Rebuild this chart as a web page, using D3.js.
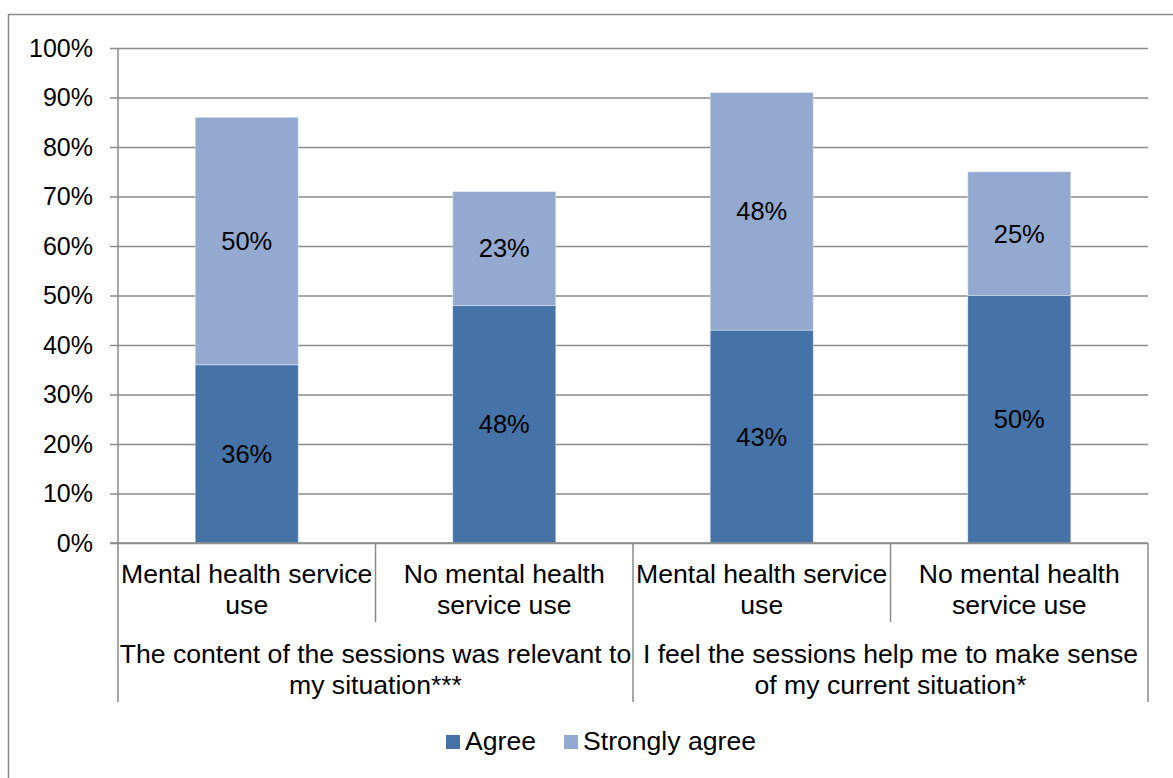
<!DOCTYPE html>
<html>
<head>
<meta charset="utf-8">
<script src="https://cdn.jsdelivr.net/npm/d3@7"></script>
<style>
  html, body { margin: 0; padding: 0; background: #fff; }
  svg { display: block; font-family: "Liberation Sans", Arial, sans-serif; }
</style>
</head>
<body>
<svg id="chart" width="1173" height="778"></svg>
<script>
// Categories: service-use group within each survey statement
const categories = ["MH1", "NoMH1", "MH2", "NoMH2"];
const categoryLines = [
  ["Mental health service", "use"],
  ["No mental health", "service use"],
  ["Mental health service", "use"],
  ["No mental health", "service use"]
];
const groupLines = [
  ["The content of the sessions was relevant to", "my situation***"],
  ["I feel the sessions help me to make sense", "of my current situation*"]
];
const groupSpans = [[0, 1], [2, 3]];

const seriesNames = ["Agree", "Strongly agree"];
const agree = [36, 48, 43, 50];
const stronglyAgree = [50, 23, 48, 25];
const yTicks = [0, 10, 20, 30, 40, 50, 60, 70, 80, 90, 100];

const colors = ["#4572A7", "#94A9CF"];
const gridColor = "#8a8a8a";
const labelSize = 26.6;

const svg = d3.select("#chart");

// outer chart frame
svg.append("rect")
  .attr("x", 8.5).attr("y", 14.5)
  .attr("width", 1200).attr("height", 800)
  .attr("fill", "none").attr("stroke", gridColor).attr("stroke-width", 1.5);

const plot = { left: 118, right: 1148, top: 48, bottom: 543 };

const x = d3.scaleBand()
  .domain(categories)
  .range([plot.left, plot.right])
  .paddingInner(0.6)
  .paddingOuter(0.3);

const xCat = d3.scaleBand()
  .domain(categories)
  .range([plot.left, plot.right]);

const y = d3.scaleLinear().domain([0, 100]).range([plot.bottom, plot.top]);

// gridlines and y-axis
const yAxis = d3.axisLeft(y)
  .tickValues(yTicks)
  .tickSize(-(plot.right - plot.left))
  .tickSizeOuter(0)
  .tickPadding(25)
  .tickFormat(d => d + "%");

const yg = svg.append("g")
  .attr("transform", `translate(${plot.left},0)`)
  .call(yAxis);
yg.select(".domain").remove();
yg.selectAll(".tick line")
  .attr("x1", -8)
  .attr("stroke", gridColor).attr("stroke-width", 1.5);
yg.selectAll(".tick text")
  .attr("font-size", 25).attr("fill", "#000")
  .attr("font-family", "Liberation Sans, Arial, sans-serif");

// vertical axis line
svg.append("line")
  .attr("x1", plot.left).attr("x2", plot.left)
  .attr("y1", y(100)).attr("y2", plot.bottom)
  .attr("stroke", gridColor).attr("stroke-width", 1.5);

// stacked bars
const stackData = categories.map((c, i) => ({ cat: c, Agree: agree[i], "Strongly agree": stronglyAgree[i] }));
const stacked = d3.stack().keys(seriesNames)(stackData);

const layers = svg.append("g").selectAll("g")
  .data(stacked)
  .join("g")
  .attr("fill", (d, i) => colors[i]);

layers.selectAll("rect")
  .data(d => d)
  .join("rect")
  .attr("x", d => x(d.data.cat))
  .attr("width", x.bandwidth())
  .attr("y", d => y(d[1]))
  .attr("height", d => y(d[0]) - y(d[1]))
  .attr("stroke", "#ffffff").attr("stroke-opacity", 0.35).attr("stroke-width", 1);

// value labels centred in each segment
layers.selectAll("text")
  .data(d => d)
  .join("text")
  .attr("x", d => x(d.data.cat) + x.bandwidth() / 2)
  .attr("y", d => y((d[0] + d[1]) / 2))
  .attr("dy", "0.35em")
  .attr("text-anchor", "middle")
  .attr("font-size", 25.5)
  .attr("fill", "#000")
  .text(d => Math.round(d[1] - d[0]) + "%");

// baseline
svg.append("line")
  .attr("x1", plot.left - 8).attr("x2", plot.right)
  .attr("y1", plot.bottom).attr("y2", plot.bottom)
  .attr("stroke", gridColor).attr("stroke-width", 1.5);

// category separators below the axis
const catBottom = 622, groupBottom = 702;
categories.forEach((c, i) => {
  const left = xCat(c);
  const isGroupEdge = groupSpans.some(s => s[0] === i);
  svg.append("line")
    .attr("x1", left).attr("x2", left)
    .attr("y1", plot.bottom).attr("y2", isGroupEdge ? groupBottom : catBottom)
    .attr("stroke", gridColor).attr("stroke-width", 1.5);
});
svg.append("line")
  .attr("x1", plot.right).attr("x2", plot.right)
  .attr("y1", plot.bottom).attr("y2", groupBottom)
  .attr("stroke", gridColor).attr("stroke-width", 1.5);

// category labels
categories.forEach((c, i) => {
  const t = svg.append("text")
    .attr("text-anchor", "middle")
    .attr("font-size", labelSize)
    .attr("fill", "#000");
  categoryLines[i].forEach((line, j) => {
    t.append("tspan")
      .attr("x", xCat(c) + xCat.bandwidth() / 2)
      .attr("y", 583 + j * 30.5)
      .text(line);
  });
});

// group labels
groupSpans.forEach((span, g) => {
  const cx = (xCat(categories[span[0]]) + xCat(categories[span[1]]) + xCat.bandwidth()) / 2;
  const t = svg.append("text")
    .attr("text-anchor", "middle")
    .attr("font-size", labelSize)
    .attr("fill", "#000");
  groupLines[g].forEach((line, j) => {
    t.append("tspan")
      .attr("x", cx)
      .attr("y", 663 + j * 30.5)
      .text(line);
  });
});

// legend
const legendX = [446, 564];
seriesNames.forEach((name, i) => {
  svg.append("rect")
    .attr("x", legendX[i]).attr("y", 735)
    .attr("width", 14).attr("height", 14)
    .attr("fill", colors[i]);
  svg.append("text")
    .attr("x", legendX[i] + 19).attr("y", 750)
    .attr("font-size", labelSize)
    .attr("fill", "#000")
    .text(name);
});
</script>
</body>
</html>
